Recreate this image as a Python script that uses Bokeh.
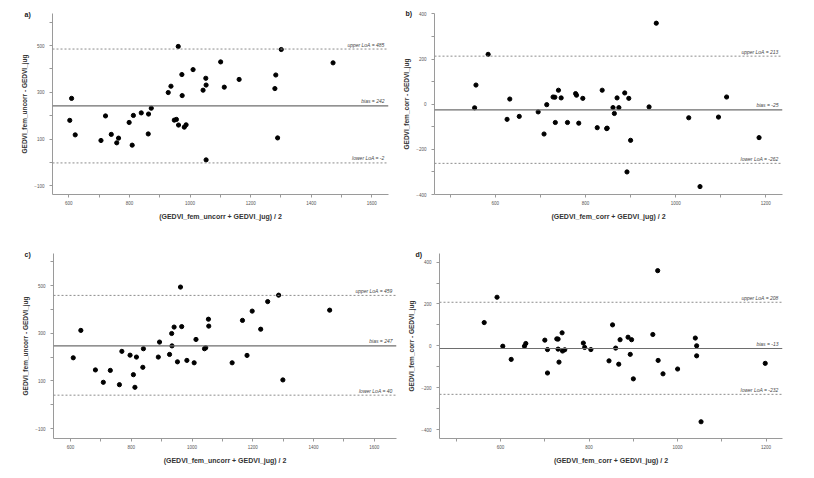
from bokeh.plotting import figure
from bokeh.layouts import column, row
from bokeh.models import Span, Label, FixedTicker
from bokeh.embed import file_html
from bokeh.resources import INLINE

# ---------------- data ----------------
a_x = [603, 609, 621, 706, 721, 740, 758, 764, 799, 809, 813, 839, 862, 863, 872,
       928, 937, 948, 955, 961, 962, 973, 974, 981, 987, 1010, 1043, 1052, 1053,
       1053, 1101, 1113, 1162, 1280, 1283, 1289, 1301, 1472]
a_y = [180, 274, 118, 94, 199, 120, 84, 104, 171, 74, 201, 212, 122, 207, 232,
       299, 326, 181, 184, 496, 160, 376, 286, 151, 161, 397, 309, 360, 331,
       11, 430, 322, 355, 316, 374, 105, 483, 426]
a_loa = [485, 242, -2]

b_x = [554, 557, 584, 626, 632, 653, 695, 708, 714, 728, 732, 733, 740, 746, 760,
       778, 780, 785, 794, 826, 837, 847, 848, 861, 864, 870, 874, 887, 892, 896,
       900, 941, 957, 1029, 1054, 1095, 1113, 1185]
b_y = [-16, 85, 221, -67, 23, -54, -34, -132, -2, 32, 31, -81, 62, 28, -81,
       47, 40, -84, 26, -104, 62, -108, -106, -15, -41, 28, -15, 50, -300, 26,
       -160, -12, 359, -60, -365, -57, 32, -148]
b_loa = [213, -25, -262]

c_x = [609, 634, 682, 708, 731, 761, 769, 796, 807, 812, 817, 838, 840, 889, 893,
       926, 933, 934, 941, 952, 962, 966, 983, 1007, 1013, 1041, 1045, 1054, 1055,
       1132, 1166, 1181, 1198, 1226, 1249, 1285, 1299, 1453]
c_y = [197, 312, 146, 94, 144, 84, 224, 208, 126, 73, 200, 157, 235, 200, 263,
       211, 299, 247, 326, 180, 494, 328, 186, 176, 274, 235, 239, 359, 330,
       176, 354, 207, 393, 317, 433, 460, 104, 397]
c_loa = [459, 247, 40]

d_x = [563, 592, 605, 624, 654, 657, 700, 706, 706, 727, 730, 730, 732, 739, 740,
       745, 787, 790, 804, 845, 853, 860, 867, 870, 888, 893, 896, 900, 944, 955,
       956, 967, 1000, 1040, 1043, 1043, 1053, 1198]
d_y = [111, 232, -2, -65, -2, 11, 27, -18, -130, 33, 32, -16, -78, 62, -25,
       -19, 13, -8, -18, -72, 100, -11, -88, 29, 41, -41, 29, -158, 54, 359,
       -70, -134, -111, 37, 0, -48, -363, -84]
d_loa = [208, -13, -232]

loa_names = ["upper LoA", "bias", "lower LoA"]
panel_tags = ["a)", "b)", "c)", "d)"]
x_titles = ["(GEDVI_fem_uncorr + GEDVI_jug) / 2", "(GEDVI_fem_corr + GEDVI_jug) / 2",
            "(GEDVI_fem_uncorr + GEDVI_jug) / 2", "(GEDVI_fem_corr + GEDVI_jug) / 2"]
y_titles = ["GEDVI_fem_uncorr - GEDVI_jug", "GEDVI_fem_corr - GEDVI_jug",
            "GEDVI_fem_uncorr - GEDVI_jug", "GEDVI_fem_corr - GEDVI_jug"]

x_ticks_unc = [600, 800, 1000, 1200, 1400, 1600]
x_minor_unc = [700, 900, 1100, 1300, 1500]
y_ticks_unc = [-100, 100, 300, 500]
y_minor_unc = [0, 200, 400, 600]
x_ticks_cor = [600, 800, 1000, 1200]
x_minor_cor = [500, 700, 900, 1100]
y_ticks_cor = [-400, -200, 0, 200, 400]
y_minor_cor = [-300, -100, 100, 300]


def make_panel(xs, ys, loa, tag, xt, yt, xr, yr, xticks, xminor, yticks, yminor,
               w, h, bl, br, bt, bb, tag_off):
    p = figure(width=w, height=h, x_range=xr, y_range=yr,
               output_backend="svg", toolbar_location=None,
               min_border_left=bl, min_border_right=br,
               min_border_top=bt, min_border_bottom=bb)
    p.outline_line_color = None
    p.xgrid.visible = False
    p.ygrid.visible = False
    p.background_fill_color = "white"
    p.border_fill_color = "white"
    p.xaxis.ticker = FixedTicker(ticks=xticks, minor_ticks=xminor)
    p.yaxis.ticker = FixedTicker(ticks=yticks, minor_ticks=yminor)
    for ax in (p.xaxis[0], p.yaxis[0]):
        ax.axis_line_color = "#9a9a9a"
        ax.major_tick_line_color = "#9a9a9a"
        ax.minor_tick_line_color = "#9a9a9a"
        ax.major_tick_out = 3
        ax.major_tick_in = 0
        ax.minor_tick_out = 3
        ax.minor_tick_in = 0
        ax.major_label_text_font = "Liberation Sans"
        ax.major_label_text_font_size = "4.5px"
        ax.major_label_text_color = "#555555"
        ax.axis_label_text_font = "Liberation Sans"
        ax.axis_label_text_font_style = "bold"
        ax.axis_label_text_color = "#333333"
    p.xaxis.major_label_standoff = 3
    p.yaxis.major_label_standoff = 5
    p.xaxis.axis_label = xt
    p.yaxis.axis_label = yt
    p.xaxis.axis_label_text_font_size = "7px"
    p.yaxis.axis_label_text_font_size = "6.5px"
    p.xaxis.axis_label_standoff = 5
    p.yaxis.axis_label_standoff = 3

    # panel tag
    p.title.text = tag
    p.title.align = "left"
    p.title.offset = tag_off[0]
    p.title.standoff = tag_off[1]
    p.title.text_font = "Liberation Sans"
    p.title.text_font_size = "7px"
    p.title.text_font_style = "bold"
    p.title.text_color = "#222222"

    for i, v in enumerate(loa):
        if i == 1:
            p.add_layout(Span(location=v, dimension="width", line_color="#6e6e6e",
                              line_width=1.2))
        else:
            p.add_layout(Span(location=v, dimension="width", line_color="#8c8c8c",
                              line_width=1, line_dash="2 2"))
        p.add_layout(Label(x=xr[1], y=v, text=f"{loa_names[i]} = {v}",
                           x_offset=-4, y_offset=1.5, text_align="right",
                           text_baseline="bottom", text_font="Liberation Sans",
                           text_font_size="5px", text_font_style="italic",
                           text_color="#444444"))
    p.scatter(xs, ys, size=4.2, color="black")
    return p


pa = make_panel(a_x, a_y, a_loa, panel_tags[0], x_titles[0], y_titles[0],
                (546, 1655), (-137, 637), x_ticks_unc, x_minor_unc, y_ticks_unc,
                y_minor_unc, 400, 240, 52, 12, 13, 46, (-28, -8))
pb = make_panel(b_x, b_y, b_loa, panel_tags[1], x_titles[1], y_titles[1],
                (465, 1237), (-400, 402), x_ticks_cor, x_minor_cor, y_ticks_cor,
                y_minor_cor, 406, 240, 31, 24, 12, 46, (-29, -6))
pc = make_panel(c_x, c_y, c_loa, panel_tags[2], x_titles[2], y_titles[2],
                (544, 1673), (-142, 635), x_ticks_unc, x_minor_unc, y_ticks_unc,
                y_minor_unc, 400, 230, 53, 4, 13, 32, (-29, -8))
pd = make_panel(d_x, d_y, d_loa, panel_tags[3], x_titles[3], y_titles[3],
                (462, 1237), (-443, 441), x_ticks_cor, x_minor_cor, y_ticks_cor,
                y_minor_cor, 406, 230, 39, 24, 12, 32, (-24, -9))

layout = column(row(pa, pb, spacing=0), row(pc, pd, spacing=0), spacing=0)
open("out.html", "w").write(file_html(layout, INLINE))
